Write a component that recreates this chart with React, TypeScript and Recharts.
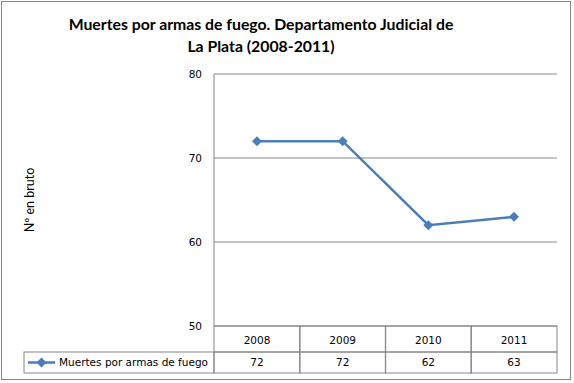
import { LineChart, Line, XAxis, YAxis, CartesianGrid } from 'recharts'

const YEARS = ['2008', '2009', '2010', '2011']
const DEATHS = [72, 72, 62, 63]
const Y_TICKS = [50, 60, 70, 80]
const SERIES_NAME = 'Muertes por armas de fuego'

const data = YEARS.map((year, i) => ({ year, deaths: DEATHS[i] }))

const BLUE = '#4a7ebb'
const GRID = '#868686'
const TABLE_FONT = '"DejaVu Sans", Verdana, sans-serif'

function Diamond({ cx, cy }: { cx?: number; cy?: number }) {
  if (cx == null || cy == null) return null
  return <path d={`M${cx},${cy - 5}L${cx + 5},${cy}L${cx},${cy + 5}L${cx - 5},${cy}Z`} fill={BLUE} />
}

// data table under the plot, drawn from the x-axis ticks
function TableTick(props: any) {
  const { x, y, payload } = props
  const i = payload.index
  const w = 86
  return (
    <g fontFamily={TABLE_FONT} fontSize={10.5} fill="#000">
      <rect x={x - w / 2} y={y} width={w} height={26} fill="none" stroke={GRID} />
      <rect x={x - w / 2} y={y + 26} width={w} height={21} fill="none" stroke={GRID} />
      <text x={x} y={y + 18} textAnchor="middle">{payload.value}</text>
      <text x={x} y={y + 40} textAnchor="middle">{DEATHS[i]}</text>
      {i === 0 && (
        <g>
          <rect x={24} y={y + 26} width={x - w / 2 - 24} height={21} fill="none" stroke={GRID} />
          <line x1={28} x2={55} y1={y + 36.5} y2={y + 36.5} stroke={BLUE} strokeWidth={2.5} />
          <Diamond cx={41.5} cy={y + 36.5} />
          <text x={59} y={y + 40}>{SERIES_NAME}</text>
        </g>
      )}
    </g>
  )
}

export default function App() {
  return (
    <div style={{ position: 'absolute', left: 0, top: 0, width: 574, height: 383, background: '#fff' }}>
      <div
        style={{
          position: 'absolute', left: 1, top: 1, width: 568, height: 377,
          border: `1px solid ${GRID}`, pointerEvents: 'none',
        }}
      />
      <div
        style={{
          position: 'absolute', left: 0, top: 13, width: 522, textAlign: 'center',
          fontFamily: 'Lato, "Open Sans", sans-serif', fontWeight: 700, fontSize: 15.8, lineHeight: '22px',
        }}
      >
        Muertes por armas de fuego. Departamento Judicial de
        <br />
        La Plata (2008-2011)
      </div>
      <div
        style={{
          position: 'absolute', left: 29, top: 200, transform: 'translate(-50%, -50%) rotate(-90deg)',
          fontFamily: 'Lato, sans-serif', fontWeight: 400, fontSize: 12.5, whiteSpace: 'nowrap',
        }}
      >
        Nº en bruto
      </div>
      <LineChart
        width={574}
        height={383}
        data={data}
        margin={{ top: 74, right: 17, left: 184, bottom: 10 }}
      >
        <CartesianGrid vertical={false} stroke={GRID} />
        <XAxis
          dataKey="year"
          axisLine={false}
          tickLine={false}
          tickSize={0}
          tickMargin={0}
          height={47}
          padding={{ left: 43, right: 43 }}
          tick={<TableTick />}
          interval={0}
        />
        <YAxis
          domain={[50, 80]}
          ticks={Y_TICKS}
          width={30}
          axisLine={{ stroke: GRID }}
          tickLine={false}
          tickMargin={6}
          tick={{ fill: '#000', fontSize: 10.5, fontFamily: TABLE_FONT }}
        />
        <Line
          dataKey="deaths"
          stroke={BLUE}
          strokeWidth={2.5}
          dot={<Diamond />}
          activeDot={false}
          isAnimationActive={false}
        />
      </LineChart>
    </div>
  )
}
